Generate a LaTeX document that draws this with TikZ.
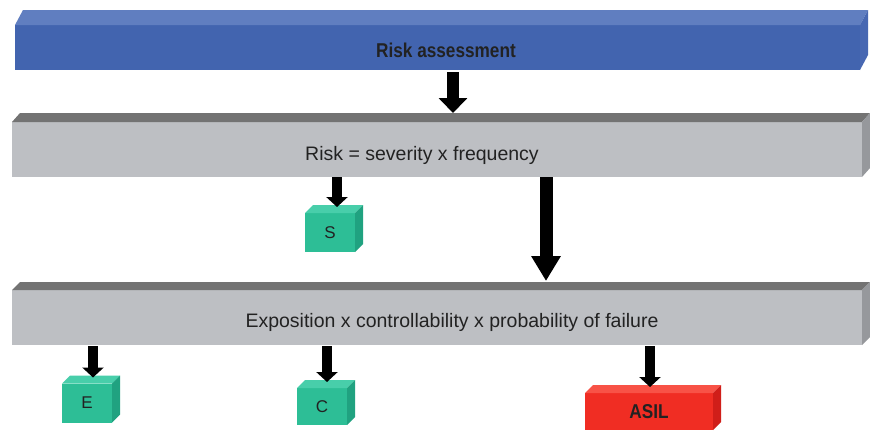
\documentclass[tikz,border=0pt]{standalone}
\usepackage{fontspec}
\setmainfont{Liberation Sans}
\newfontfamily\condfont[FakeStretch=0.86]{Liberation Sans}
\usetikzlibrary{arrows.meta,calc}
\definecolor{bluefront}{RGB}{66,100,175}
\definecolor{bluetop}{RGB}{96,126,192}
\definecolor{blueside}{RGB}{72,104,178}
\definecolor{grayfront}{RGB}{189,191,195}
\definecolor{graytop}{RGB}{115,115,115}
\definecolor{grayside}{RGB}{150,152,156}
\definecolor{tealfront}{RGB}{45,190,150}
\definecolor{tealtop}{RGB}{72,206,170}
\definecolor{tealside}{RGB}{32,162,128}
\definecolor{redfront}{RGB}{240,45,35}
\definecolor{redtop}{RGB}{248,82,70}
\definecolor{redside}{RGB}{208,30,25}
\definecolor{txt}{RGB}{34,34,34}
\newcommand\boxfaces[5]{%
  \fill[#4] (#1.north west) -- ++(#2,#3) -- ($(#1.north east)+(#2,#3)$) -- (#1.north east) -- cycle;
  \fill[#5] (#1.north east) -- ++(#2,#3) -- ($(#1.south east)+(#2,#3)$) -- (#1.south east) -- cycle;}
\tikzset{
  slab/.style={inner sep=0pt, outer sep=0pt, draw=none},
  bartext/.style={text=txt, font=\fontsize{19.5}{22}\selectfont, anchor=base, inner sep=0pt},
  titletext/.style={text=txt, font=\fontsize{20}{23}\selectfont\condfont\bfseries, anchor=base, inner sep=0pt},
  cubebox/.style={slab, fill=tealfront, minimum width=50pt, minimum height=39pt, text=txt, font=\fontsize{17}{20}\selectfont},
  shaft/.style={draw=black, line cap=butt},
  toparr/.style={shaft, line width=12pt, -{Triangle[width=28pt,length=15pt]}},
  bigarr/.style={shaft, line width=13pt, -{Triangle[width=28pt,length=25pt]}},
  smallarr/.style={shaft, line width=10pt, -{Triangle[width=21pt,length=10pt]}}
}
\begin{document}
\begin{tikzpicture}[x=1pt,y=-1pt]
\useasboundingbox (0,0) rectangle (870,437);
\fill[white] (0,0) rectangle (870,437);

% blue bar
\node[slab, fill=bluefront, minimum width=845pt, minimum height=45pt] (risk) at (437.5,47.5) {};
\boxfaces{risk}{8}{-15}{bluetop}{blueside}
\node[titletext] (risklabel) at (446,57.5) {Risk assessment};

% gray bar 1
\node[slab, fill=grayfront, minimum width=850pt, minimum height=55pt] (formula) at (437,149.5) {};
\boxfaces{formula}{8}{-9}{graytop}{grayside}
\node[bartext] (formulalabel) at (422,160) {Risk = severity x frequency};

% gray bar 2
\node[slab, fill=grayfront, minimum width=850pt, minimum height=55pt] (factors) at (437,317.5) {};
\boxfaces{factors}{8}{-8}{graytop}{grayside}
\node[bartext] (factorslabel) at (452,327) {Exposition x controllability x probability of failure};

% cubes
\node[cubebox] (S) at (330,232.5) {S};
\boxfaces{S}{8}{-8}{tealtop}{tealside}
\node[cubebox] (E) at (87,403) {E};
\boxfaces{E}{8}{-8}{tealtop}{tealside}
\node[cubebox, minimum height=37pt] (C) at (322,406.5) {C};
\boxfaces{C}{8}{-8}{tealtop}{tealside}
\node[slab, fill=redfront, minimum width=128pt, minimum height=37pt, text=txt,
      font=\fontsize{20}{23}\selectfont\condfont\bfseries] (ASIL) at (649,411.5) {ASIL};
\boxfaces{ASIL}{8}{-8}{redtop}{redside}

% arrow targets
\coordinate (formulatop) at ([xshift=16pt,yshift=9pt]formula.north);
\coordinate (factorstop) at ([xshift=109pt,yshift=9pt]factors.north);
\coordinate (Stop) at ([xshift=7pt,yshift=6pt]S.north);
\coordinate (Etop) at ([xshift=6pt,yshift=6pt]E.north);
\coordinate (Ctop) at ([xshift=5pt,yshift=6pt]C.north);
\coordinate (ASILtop) at ([xshift=1pt,yshift=6pt]ASIL.north);

% arrows
\draw[toparr] ([yshift=-2pt]risk.south -| formulatop) -- (formulatop);
\draw[smallarr] (formula.south -| Stop) -- (Stop);
\draw[bigarr] (formula.south -| factorstop) -- (factorstop);
\draw[smallarr] ([yshift=-1pt]factors.south -| Etop) -- (Etop);
\draw[smallarr] ([yshift=-1pt]factors.south -| Ctop) -- (Ctop);
\draw[smallarr] ([yshift=-1pt]factors.south -| ASILtop) -- (ASILtop);
\end{tikzpicture}
\end{document}
